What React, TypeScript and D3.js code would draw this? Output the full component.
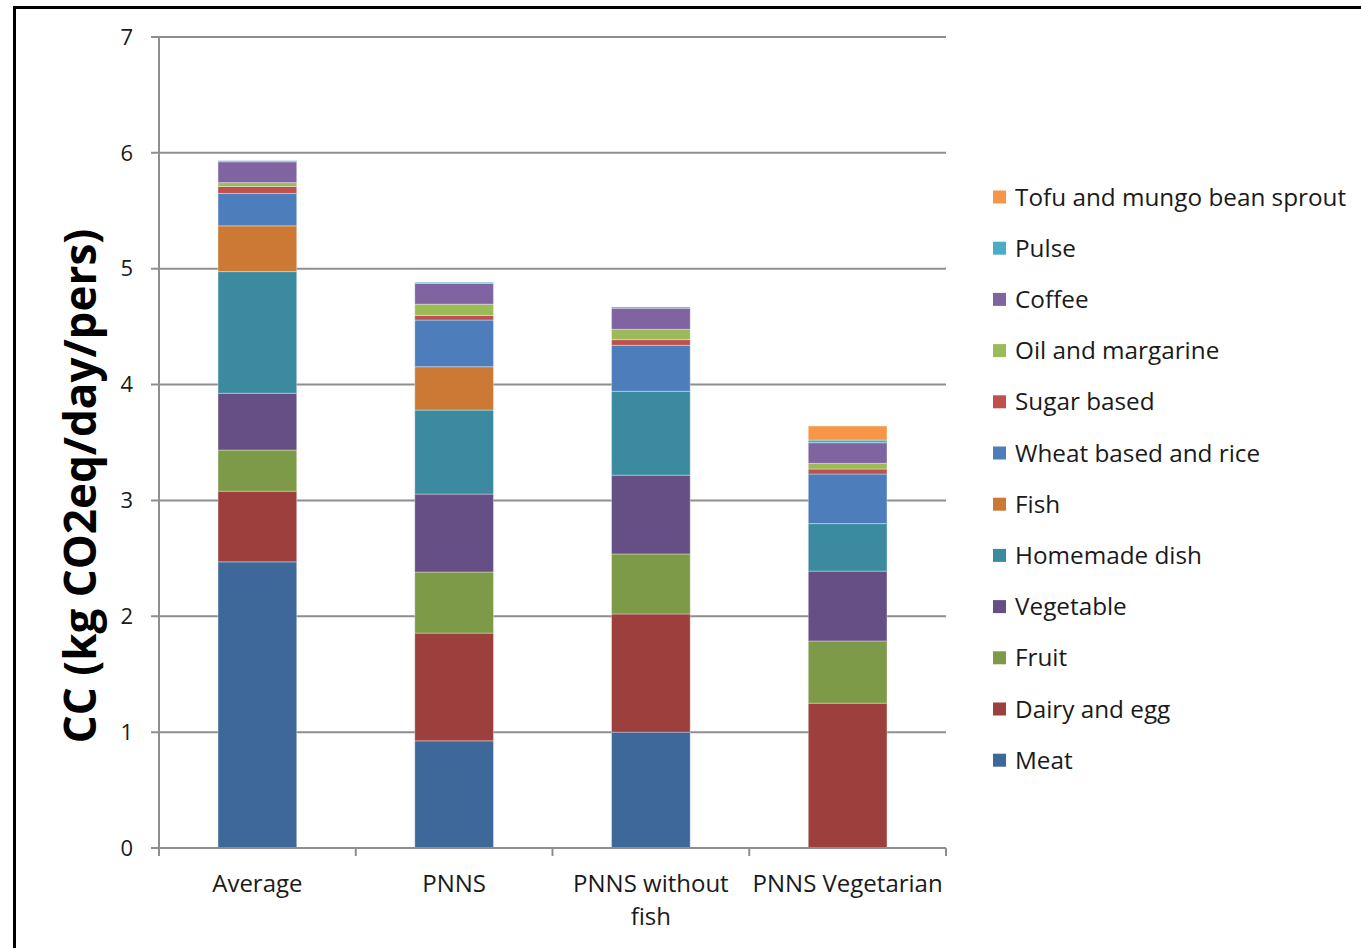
import React from "react";
import * as d3 from "d3";

// Diets compared along the x axis
const diets = ["Average", "PNNS", "PNNS without fish", "PNNS Vegetarian"];
const dietLines = [["Average"], ["PNNS"], ["PNNS without", "fish"], ["PNNS Vegetarian"]];

// Food groups, stacked from the bottom up
const groups = [
  "Meat",
  "Dairy and egg",
  "Fruit",
  "Vegetable",
  "Homemade dish",
  "Fish",
  "Wheat based and rice",
  "Sugar based",
  "Oil and margarine",
  "Coffee",
  "Pulse",
  "Tofu and mungo bean sprout",
];

const groupColors = [
  "#3E6899",
  "#9C3F3D",
  "#7C9A47",
  "#664F85",
  "#3B8AA0",
  "#CC7935",
  "#4D7EBB",
  "#C0504D",
  "#9BBB59",
  "#8064A2",
  "#4BACC6",
  "#F79646",
];

// kg CO2eq/day/pers per food group, one array per diet (same order as groups)
const averageValues = [2.47, 0.61, 0.355, 0.49, 1.05, 0.395, 0.28, 0.06, 0.033, 0.18, 0.01, 0];
const pnnsValues = [0.925, 0.93, 0.527, 0.673, 0.725, 0.374, 0.403, 0.04, 0.097, 0.179, 0.01, 0];
const pnnsNoFishValues = [1.0, 1.02, 0.518, 0.68, 0.724, 0, 0.397, 0.049, 0.089, 0.182, 0.011, 0];
const pnnsVegValues = [0, 1.25, 0.537, 0.603, 0.41, 0, 0.428, 0.043, 0.049, 0.178, 0.023, 0.121];

const yTicks = [0, 1, 2, 3, 4, 5, 6, 7];

const FONT = "'Open Sans', Lato, sans-serif";

export default function App() {
  const width = 1361;
  const height = 948;
  const left = 159;
  const right = 946;
  const top = 37;
  const bottom = 848;

  const seriesByDiet = [averageValues, pnnsValues, pnnsNoFishValues, pnnsVegValues];
  const table = diets.map((d, i) => {
    const row: Record<string, number | string> = { diet: d };
    groups.forEach((g, j) => (row[g] = seriesByDiet[i][j]));
    return row;
  });

  const stack = d3.stack<Record<string, number | string>>().keys(groups);
  const layers = stack(table as any);

  const x = d3.scaleBand<string>().domain(diets).range([left, right]).paddingInner(0.6).paddingOuter(0.3);
  const xOuter = d3.scaleBand<string>().domain(diets).range([left, right]);
  const y = d3.scaleLinear().domain([0, 7]).range([bottom, top]);

  const legendTop = 197;
  const legendStep = 51.2;
  const legendOrder = groups.slice().reverse();

  return (
    <svg width={width} height={height} style={{ position: "absolute", left: 0, top: 0, background: "#fff" }}>
      <rect x={0} y={0} width={width} height={height} fill="#fff" />
      {/* outer frame */}
      <path d={`M14.5,${height + 5} L14.5,7.5 L${width + 5},7.5`} fill="none" stroke="#000" strokeWidth={3} />

      {/* gridlines */}
      {yTicks.map((t) => (
        <line key={"g" + t} x1={left - 8} x2={right} y1={y(t)} y2={y(t)} stroke="#8E8E8E" strokeWidth={2} />
      ))}
      {/* y axis */}
      <line x1={left} x2={left} y1={top} y2={bottom} stroke="#8E8E8E" strokeWidth={2} />
      {yTicks.map((t) => (
        <text key={"yt" + t} x={133} y={y(t)} dy="0.35em" textAnchor="end" fontFamily={FONT} fontSize={22} fill="#1a1a1a">
          {t}
        </text>
      ))}

      {/* stacked bars */}
      {layers.map((layer, li) => (
        <g key={groups[li]} fill={groupColors[li]}>
          {layer.map((seg, di) => {
            const h = y(seg[0]) - y(seg[1]);
            if (h <= 0) return null;
            return (
              <rect
                key={di}
                x={x(diets[di])!}
                y={y(seg[1])}
                width={x.bandwidth()}
                height={h}
                stroke="rgba(255,255,255,0.35)"
                strokeWidth={1}
              />
            );
          })}
        </g>
      ))}

      {/* x axis with category ticks */}
      <line x1={left} x2={right} y1={bottom} y2={bottom} stroke="#8E8E8E" strokeWidth={2} />
      {[...diets.map((d) => xOuter(d)!), right].map((px, i) => (
        <line key={"xt" + i} x1={px} x2={px} y1={bottom} y2={bottom + 8} stroke="#8E8E8E" strokeWidth={2} />
      ))}
      {diets.map((d, i) => (
        <text key={"xl" + d} textAnchor="middle" fontFamily={FONT} fontSize={24} fill="#1a1a1a">
          {dietLines[i].map((line, k) => (
            <tspan key={k} x={xOuter(d)! + xOuter.bandwidth() / 2} y={892 + k * 33}>
              {line}
            </tspan>
          ))}
        </text>
      ))}

      {/* y axis title */}
      <text
        transform={`translate(96,486) rotate(-90)`}
        textAnchor="middle"
        fontFamily={FONT}
        fontSize={44}
        fontWeight="bold"
        fill="#000"
      >
        CC (kg CO2eq/day/pers)
      </text>

      {/* legend */}
      {legendOrder.map((g, i) => {
        const cy = legendTop + i * legendStep;
        const ci = groups.indexOf(g);
        return (
          <g key={"lg" + g}>
            <rect x={993} y={cy - 6.5} width={13} height={13} fill={groupColors[ci]} />
            <text x={1015} y={cy} dy="0.35em" fontFamily={FONT} fontSize={24.3} fill="#1a1a1a">
              {g}
            </text>
          </g>
        );
      })}
    </svg>
  );
}
